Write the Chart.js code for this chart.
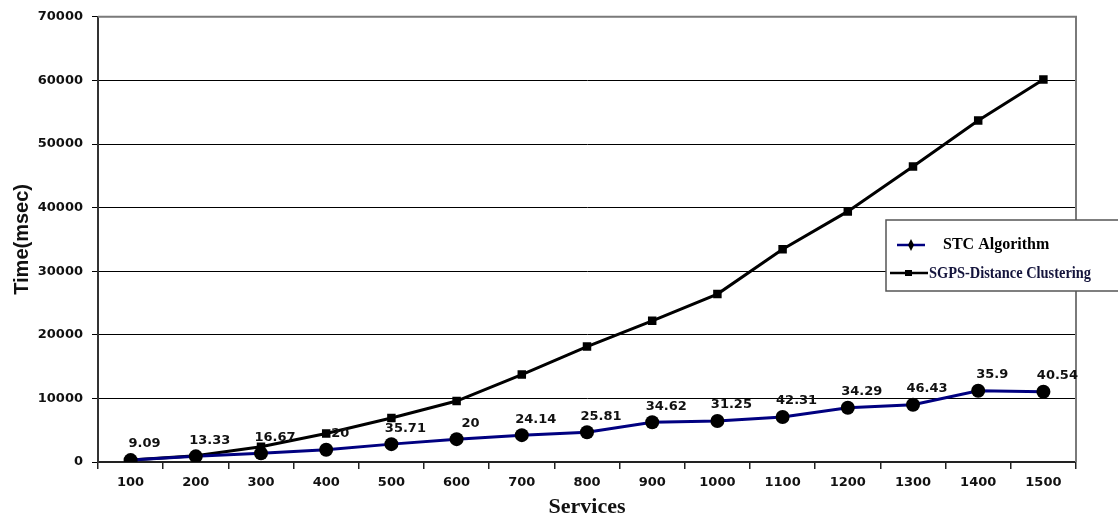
<!DOCTYPE html>
<html>
<head>
<meta charset="utf-8">
<script src="https://cdn.jsdelivr.net/npm/chart.js@4/dist/chart.umd.min.js"></script>
<style>
  html, body { margin: 0; padding: 0; background: #ffffff; }
  #wrap { position: relative; width: 1118px; height: 519px; }
</style>
</head>
<body>
<div id="wrap"><canvas id="chart" width="1118" height="519"></canvas></div>
<script>
// Number of services tested
const services = ['100', '200', '300', '400', '500', '600', '700', '800', '900', '1000', '1100', '1200', '1300', '1400', '1500'];

// Running time (msec) of the STC algorithm
const stcTime = [300, 890, 1360, 1930, 2810, 3590, 4220, 4680, 6250, 6450, 7080, 8540, 9010, 11200, 11050];

// Running time (msec) of SGPS-Distance clustering
const sgpsTime = [300, 1000, 2400, 4480, 6920, 9580, 13750, 18150, 22200, 26400, 33450, 39400, 46450, 53700, 60150];

// Percent values printed above the STC points
const stcLabels = ['9.09', '13.33', '16.67', '20', '35.71', '20', '24.14', '25.81', '34.62', '31.25', '42.31', '34.29', '46.43', '35.9', '40.54'];

// Y axis ticks
const yMin = 0, yMax = 70000, yStep = 10000;

const seriesNames = ['STC Algorithm', 'SGPS-Distance Clustering'];

// Gray frame on the top and right of the plotting area
const frame = {
  id: 'frame',
  beforeDatasetsDraw(chart) {
    const { ctx, chartArea: a } = chart;
    ctx.save();
    ctx.strokeStyle = '#7a7a7a';
    ctx.lineWidth = 2;
    ctx.beginPath();
    ctx.moveTo(a.left, a.top);
    ctx.lineTo(a.right, a.top);
    ctx.lineTo(a.right, a.bottom);
    ctx.stroke();
    ctx.restore();
  }
};

// Percent labels drawn next to each STC point
const pointLabels = {
  id: 'pointLabels',
  afterDatasetsDraw(chart) {
    const { ctx } = chart;
    const meta = chart.getDatasetMeta(0);
    ctx.save();
    ctx.font = 'bold 13px "DejaVu Sans"';
    ctx.fillStyle = '#111111';
    ctx.textAlign = 'center';
    ctx.textBaseline = 'middle';
    meta.data.forEach((pt, i) => {
      ctx.fillText(stcLabels[i], pt.x + 14, pt.y - 16);
    });
    ctx.restore();
  }
};

// Boxed legend at the right edge
const boxLegend = {
  id: 'boxLegend',
  afterDraw(chart) {
    const { ctx } = chart;
    const ds = chart.data.datasets;
    ctx.save();
    ctx.fillStyle = '#ffffff';
    ctx.fillRect(886, 220, 240, 71);
    ctx.strokeStyle = '#555555';
    ctx.lineWidth = 1.5;
    ctx.strokeRect(886, 220, 240, 71);

    // STC entry
    ctx.strokeStyle = ds[0].borderColor;
    ctx.lineWidth = 2.5;
    ctx.beginPath(); ctx.moveTo(897, 245); ctx.lineTo(925, 245); ctx.stroke();
    ctx.fillStyle = '#000000';
    ctx.beginPath();
    ctx.moveTo(911, 239); ctx.lineTo(914, 245); ctx.lineTo(911, 251); ctx.lineTo(908, 245);
    ctx.closePath(); ctx.fill();
    ctx.font = 'bold 16px "Liberation Serif"';
    ctx.textBaseline = 'middle';
    ctx.fillText(ds[0].label, 943, 245);

    // SGPS entry
    ctx.strokeStyle = ds[1].borderColor;
    ctx.lineWidth = 2.5;
    ctx.beginPath(); ctx.moveTo(890, 273); ctx.lineTo(928, 273); ctx.stroke();
    ctx.fillStyle = '#000000';
    ctx.fillRect(905, 270, 7, 6);
    ctx.fillStyle = '#14143c';
    ctx.font = 'bold 16px "Liberation Serif"';
    ctx.fillText(ds[1].label, 929, 274, 162);
    ctx.restore();
  }
};

new Chart(document.getElementById('chart'), {
  type: 'line',
  data: {
    labels: services,
    datasets: [
      {
        label: seriesNames[0],
        data: stcTime,
        borderColor: '#000080',
        borderWidth: 3,
        pointStyle: 'circle',
        pointRadius: 7,
        pointBackgroundColor: '#000000',
        pointBorderColor: '#000000',
        pointBorderWidth: 0,
        tension: 0,
        order: 0
      },
      {
        label: seriesNames[1],
        data: sgpsTime,
        borderColor: '#000000',
        borderWidth: 3,
        pointStyle: 'rect',
        pointRadius: 6,
        pointBackgroundColor: '#000000',
        pointBorderColor: '#000000',
        pointBorderWidth: 0,
        tension: 0,
        order: 1
      }
    ]
  },
  options: {
    responsive: false,
    animation: false,
    layout: { padding: { left: 0, top: 14, right: 42, bottom: 0 } },
    plugins: {
      legend: { display: false },
      tooltip: { enabled: false }
    },
    scales: {
      x: {
        type: 'category',
        offset: true,
        grid: {
          offset: true,
          drawOnChartArea: false,
          drawTicks: true,
          tickLength: 7,
          color: '#222222',
          lineWidth: 1.5
        },
        border: { display: true, color: '#222222', width: 2 },
        ticks: {
          color: '#111111',
          font: { family: '"DejaVu Sans"', size: 13, weight: 'bold' },
          padding: 6,
          maxRotation: 0,
          autoSkip: false
        },
        title: {
          display: true,
          text: 'Services',
          color: '#111111',
          font: { family: '"Liberation Serif"', size: 22, weight: 'bold', lineHeight: 1 },
          padding: { top: 0, bottom: 1 }
        },
        afterFit(scale) { scale.height = 57; }
      },
      y: {
        min: yMin,
        max: yMax,
        grid: {
          color: '#000000',
          lineWidth: 1,
          drawTicks: true,
          tickLength: 6
        },
        border: { display: true, color: '#333333', width: 2 },
        ticks: {
          stepSize: yStep,
          color: '#111111',
          font: { family: '"DejaVu Sans"', size: 13, weight: 'bold' },
          padding: 9,
          callback: (v) => String(v)
        },
        title: {
          display: true,
          text: 'Time(msec)',
          color: '#111111',
          font: { family: '"Liberation Sans"', size: 20, weight: 'bold', lineHeight: 1 },
          padding: { top: 12, bottom: 0 }
        },
        afterFit(scale) { scale.width = 98; }
      }
    }
  },
  plugins: [frame, pointLabels, boxLegend]
});
</script>
</body>
</html>
